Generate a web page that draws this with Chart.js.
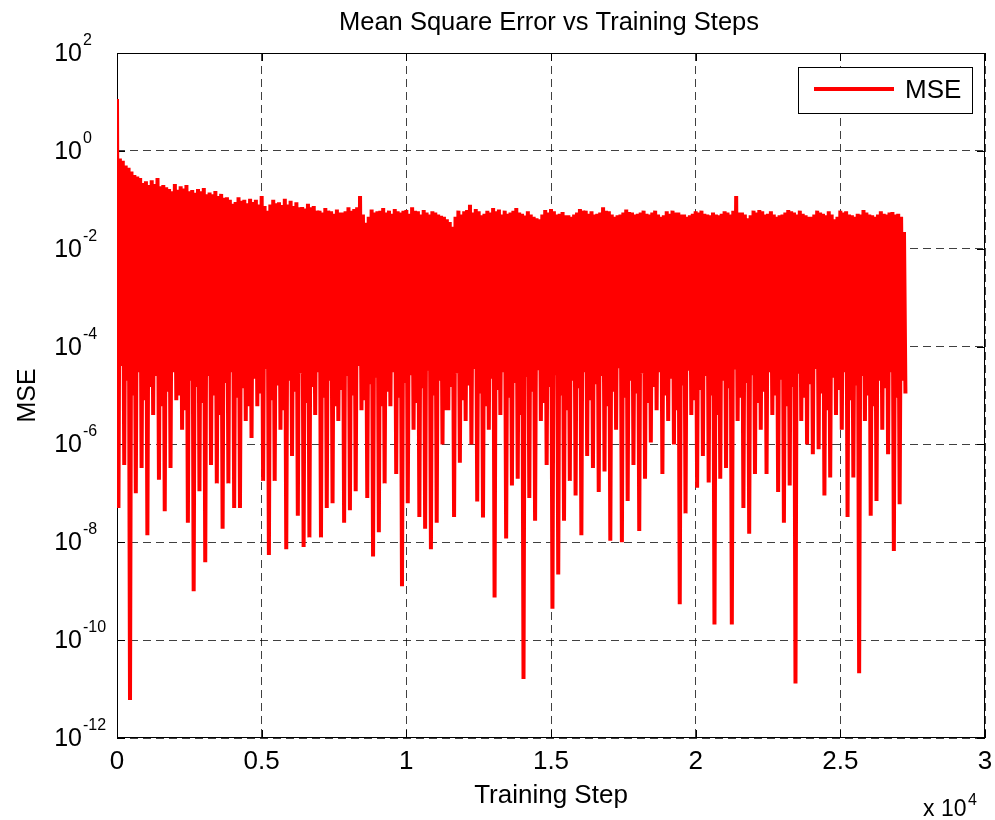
<!DOCTYPE html>
<html>
<head>
<meta charset="utf-8">
<title>Mean Square Error vs Training Steps</title>
<script src="https://cdn.jsdelivr.net/npm/chart.js@4.4.1/dist/chart.umd.min.js"></script>
<style>
  html, body { margin: 0; padding: 0; background: #fff; }
  #wrap { width: 995px; height: 820px; }
</style>
</head>
<body>
<div id="wrap"><canvas id="mseChart" width="995" height="820"></canvas></div>
<script>
// upper swings of the MSE trace, one every 100 training steps
const peakMSE = [
  11.5, 0.7, 0.63, 0.5, 0.45, 0.38, 0.32, 0.3, 0.28, 0.22,
  0.24, 0.2, 0.25, 0.21, 0.28, 0.19, 0.2, 0.18, 0.166, 0.15,
  0.21, 0.16, 0.19, 0.17, 0.2, 0.15, 0.158, 0.14, 0.166, 0.15,
  0.174, 0.13, 0.141, 0.13, 0.151, 0.12, 0.132, 0.11, 0.112, 0.1,
  0.083, 0.09, 0.112, 0.095, 0.1, 0.085, 0.105, 0.09, 0.1, 0.08,
  0.12, 0.075, 0.06, 0.08, 0.1, 0.085, 0.089, 0.078, 0.105, 0.08,
  0.095, 0.075, 0.089, 0.07, 0.071, 0.066, 0.083, 0.07, 0.075, 0.06,
  0.06, 0.055, 0.068, 0.06, 0.058, 0.052, 0.063, 0.055, 0.055, 0.058,
  0.07, 0.06, 0.065, 0.07, 0.12, 0.05, 0.034, 0.045, 0.063, 0.055,
  0.058, 0.06, 0.068, 0.055, 0.06, 0.052, 0.065, 0.058, 0.055, 0.06,
  0.062, 0.052, 0.07, 0.06, 0.058, 0.05, 0.062, 0.055, 0.05, 0.058,
  0.055, 0.05, 0.047, 0.045, 0.04, 0.035, 0.028, 0.045, 0.06, 0.05,
  0.058, 0.062, 0.079, 0.055, 0.065, 0.058, 0.048, 0.052, 0.06, 0.055,
  0.068, 0.058, 0.063, 0.05, 0.06, 0.052, 0.055, 0.06, 0.068, 0.055,
  0.052, 0.048, 0.058, 0.05, 0.045, 0.042, 0.04, 0.05, 0.062, 0.055,
  0.065, 0.058, 0.05, 0.052, 0.056, 0.048, 0.048, 0.045, 0.05, 0.055,
  0.065, 0.06, 0.06, 0.052, 0.058, 0.05, 0.052, 0.055, 0.07, 0.06,
  0.058, 0.05, 0.045, 0.048, 0.05, 0.055, 0.063, 0.056, 0.055, 0.05,
  0.052, 0.055, 0.06, 0.052, 0.05, 0.055, 0.06, 0.05, 0.045, 0.048,
  0.058, 0.052, 0.06, 0.055, 0.055, 0.05, 0.05, 0.045, 0.048, 0.052,
  0.058, 0.055, 0.06, 0.052, 0.05, 0.048, 0.055, 0.05, 0.048, 0.052,
  0.058, 0.055, 0.05, 0.06, 0.12, 0.055, 0.055, 0.05, 0.042, 0.048,
  0.06, 0.055, 0.062, 0.058, 0.05, 0.052, 0.058, 0.05, 0.045, 0.048,
  0.05, 0.055, 0.062, 0.058, 0.055, 0.05, 0.06, 0.052, 0.048, 0.045,
  0.045, 0.05, 0.06, 0.055, 0.052, 0.048, 0.058, 0.05, 0.04, 0.045,
  0.06, 0.055, 0.058, 0.05, 0.048, 0.045, 0.052, 0.05, 0.062, 0.055,
  0.05, 0.048, 0.045, 0.05, 0.058, 0.052, 0.05, 0.055, 0.056, 0.05,
  0.052, 0.045, 0.022
];

// lower swings, each 50 steps after the matching peak
const dipMSE = [
  5e-8, 4e-5, 3.8e-7, 2e-5, 6e-12, 1e-5, 1e-7, 3e-5, 3.3e-7, 8e-6,
  1.4e-8, 1.5e-5, 4e-6, 2.5e-5, 1.9e-7, 6e-6, 4.3e-8, 1.2e-5, 3.3e-7, 3e-5,
  8e-6, 1e-5, 2e-6, 5e-6, 2.5e-8, 2e-5, 1e-9, 1.5e-5, 1.1e-7, 7e-6,
  3.9e-9, 2.5e-5, 3.8e-7, 1e-5, 1.6e-7, 4e-6, 1.9e-8, 1.8e-5, 1.6e-7, 3e-5,
  5e-8, 9e-6, 5e-8, 1.4e-5, 3e-6, 6e-6, 1.35e-6, 2.2e-5, 6e-6, 1.1e-5,
  1.8e-7, 3.5e-5, 5.5e-9, 8e-6, 1.8e-7, 1.6e-5, 2e-6, 5e-6, 7.2e-9, 2e-5,
  5.8e-7, 1.2e-5, 3.5e-8, 2.8e-5, 8e-9, 7e-6, 1.26e-8, 1.5e-5, 4e-6, 3e-5,
  1.26e-8, 9e-6, 5e-8, 2e-5, 6.3e-8, 6e-6, 3e-6, 1.3e-5, 2.5e-8, 2.5e-5,
  4.5e-8, 1e-5, 1.1e-7, 4e-5, 5e-6, 8e-6, 8e-8, 1.7e-5, 5.1e-9, 2.3e-5,
  1.6e-8, 6e-6, 1.6e-7, 1.2e-5, 6e-6, 3e-5, 2.5e-7, 9e-6, 1.26e-9, 1.8e-5,
  6.3e-8, 2.6e-5, 2e-6, 7e-6, 3.3e-8, 1.4e-5, 1.9e-8, 3.2e-5, 7.2e-9, 1e-5,
  2.5e-8, 2e-5, 1e-6, 5e-6, 5e-6, 1.5e-5, 3.3e-8, 2.8e-5, 4.2e-7, 8e-6,
  3e-6, 1.6e-5, 1e-6, 3.5e-5, 6.8e-8, 1.1e-5, 3.2e-8, 6e-6, 2e-6, 2.2e-5,
  7.4e-10, 1.3e-5, 4e-6, 3e-5, 1.2e-8, 9e-6, 1.45e-7, 1.8e-5, 2e-7, 4e-6,
  1.6e-11, 2.4e-5, 8e-8, 1.2e-5, 2.75e-8, 3.3e-5, 3e-6, 7e-6, 3.8e-7, 1.5e-5,
  4.4e-10, 2.6e-5, 2.2e-9, 1e-5, 2.75e-8, 5e-6, 1.8e-7, 2e-5, 9e-8, 1.4e-5,
  1.4e-8, 3e-5, 5.8e-7, 8e-6, 3.3e-7, 1.7e-5, 1.07e-7, 2.5e-5, 2.8e-7, 6e-6,
  1.07e-8, 1.2e-5, 2e-6, 3.6e-5, 1e-8, 9e-6, 7e-8, 2e-5, 3.8e-7, 1.1e-5,
  1.7e-8, 2.8e-5, 2e-7, 7e-6, 1.1e-6, 1.5e-5, 5e-6, 3e-5, 2.5e-7, 1e-5,
  3e-6, 2.2e-5, 1e-6, 5e-6, 5.4e-10, 1.6e-5, 3.9e-8, 3.2e-5, 4e-6, 8e-6,
  1.3e-7, 1.3e-5, 5.8e-7, 2.5e-5, 1.66e-7, 1e-5, 2.1e-10, 4e-6, 2e-7, 2e-5,
  3.3e-7, 1.4e-5, 2.1e-10, 3.4e-5, 3e-6, 9e-6, 5e-8, 1.8e-5, 1.5e-8, 2.6e-5,
  2.5e-7, 7e-6, 2e-6, 1.2e-5, 2.5e-7, 3e-5, 4e-6, 1e-5, 1.07e-7, 2.1e-5,
  2.5e-8, 6e-6, 1.45e-7, 1.5e-5, 1.3e-11, 2.8e-5, 3e-6, 9e-6, 1e-6, 1.7e-5,
  6.3e-7, 3.5e-5, 8e-7, 1.1e-5, 9e-8, 5e-6, 2.1e-7, 2.3e-5, 4e-6, 1.3e-5,
  2e-6, 3e-5, 3.3e-8, 8e-6, 2.1e-7, 1.6e-5, 2.1e-11, 2.5e-5, 3e-6, 1e-5,
  3.5e-8, 6e-6, 7e-8, 2e-5, 2e-6, 1.4e-5, 6.3e-7, 3e-5, 6.6e-9, 9e-6,
  6e-8, 2e-5, 1.1e-5
];

const stepsPerSample = 100;

const yTickValues = [1e2, 1e0, 1e-2, 1e-4, 1e-6, 1e-8, 1e-10, 1e-12];
const yTickExponents = ['2', '0', '-2', '-4', '-6', '-8', '-10', '-12'];
const xTickLabels = ['0', '0.5', '1', '1.5', '2', '2.5', '3'];
const xScaleExponent = '4';

const FONT = "'Liberation Sans', Arial, Helvetica, sans-serif";
Chart.defaults.font.family = FONT;

// peak, dip, peak, dip ... along the step axis
const points = [];
peakMSE.forEach((p, j) => {
  points.push({ x: j * stepsPerSample, y: p });
  points.push({ x: j * stepsPerSample + stepsPerSample / 2, y: dipMSE[j] });
});

const matlabAxes = {
  id: 'matlabAxes',
  beforeDatasetsDraw(chart) {
    const { ctx, chartArea: a, scales: { x, y } } = chart;
    ctx.save();
    ctx.setLineDash([]);
    ctx.strokeStyle = '#000';
    ctx.lineWidth = 1;
    ctx.strokeRect(a.left + 0.5, a.top + 0.5, a.right - a.left - 1, a.bottom - a.top - 1);
    const tick = 8;
    ctx.beginPath();
    yTickValues.forEach(v => {
      const py = Math.round(y.getPixelForValue(v)) + 0.5;
      ctx.moveTo(a.left, py); ctx.lineTo(a.left + tick, py);
      ctx.moveTo(a.right, py); ctx.lineTo(a.right - tick, py);
    });
    x.ticks.forEach(t => {
      const px = Math.round(x.getPixelForValue(t.value)) + 0.5;
      ctx.moveTo(px, a.bottom); ctx.lineTo(px, a.bottom - tick);
      ctx.moveTo(px, a.top); ctx.lineTo(px, a.top + tick);
    });
    ctx.stroke();
    ctx.restore();
  },
  afterDraw(chart) {
    const { ctx, chartArea: a, scales: { y } } = chart;
    ctx.save();
    ctx.fillStyle = '#000';

    // title over the middle of the axes
    ctx.font = '25.5px ' + FONT;
    ctx.textAlign = 'center';
    ctx.textBaseline = 'middle';
    ctx.fillText('Mean Square Error vs Training Steps', (a.left + a.right) / 2 - 2, 23);

    // y tick labels: 10 with a raised exponent
    ctx.textBaseline = 'alphabetic';
    yTickValues.forEach((v, i) => {
      const py = y.getPixelForValue(v);
      ctx.font = '25px ' + FONT;
      ctx.textAlign = 'right';
      ctx.fillText('10', a.left - 35, py + 8);
      ctx.font = '16px ' + FONT;
      ctx.textAlign = 'left';
      ctx.fillText(yTickExponents[i], a.left - 34, py - 8);
    });

    // x multiplier under the right end of the axis
    ctx.font = '23px ' + FONT;
    ctx.textAlign = 'left';
    ctx.fillText('x 10', a.right - 62, a.bottom + 78);
    ctx.font = '16px ' + FONT;
    ctx.fillText(xScaleExponent, a.right - 17, a.bottom + 67);

    // legend box
    const ds = chart.data.datasets[0];
    const bx = a.right - 187, by = a.top + 14, bw = 174, bh = 46;
    ctx.fillStyle = '#fff';
    ctx.fillRect(bx, by, bw, bh);
    ctx.strokeStyle = '#000';
    ctx.lineWidth = 1;
    ctx.strokeRect(bx + 0.5, by + 0.5, bw, bh);
    ctx.strokeStyle = ds.borderColor;
    ctx.lineWidth = 4;
    ctx.beginPath();
    ctx.moveTo(bx + 16, by + 22);
    ctx.lineTo(bx + 96, by + 22);
    ctx.stroke();
    ctx.fillStyle = '#000';
    ctx.font = '26px ' + FONT;
    ctx.textBaseline = 'middle';
    ctx.fillText(ds.label, bx + 107, by + 24);
    ctx.restore();
  }
};

new Chart(document.getElementById('mseChart'), {
  type: 'line',
  data: {
    datasets: [{
      label: 'MSE',
      data: points,
      borderColor: '#ff0000',
      borderWidth: 4,
      pointRadius: 0,
      tension: 0,
      fill: false
    }]
  },
  options: {
    responsive: false,
    animation: false,
    devicePixelRatio: 1,
    layout: { padding: { left: 0, right: 10, top: 53, bottom: 0 } },
    plugins: {
      legend: { display: false },
      tooltip: { enabled: false },
      title: { display: false }
    },
    scales: {
      x: {
        type: 'linear',
        min: 0,
        max: 30000,
        afterFit: s => { s.height = 82; s.paddingLeft = 0; s.paddingRight = 0; },
        ticks: {
          stepSize: 5000,
          autoSkip: false,
          maxRotation: 0,
          color: '#000',
          padding: 8,
          font: { size: 26 },
          callback: (v, i) => xTickLabels[i]
        },
        grid: { color: 'rgba(0,0,0,0.75)', drawTicks: false },
        border: { display: false, dash: [8, 5] },
        title: {
          display: true,
          text: 'Training Step',
          color: '#000',
          font: { size: 26 },
          padding: { top: 0, bottom: 9 }
        }
      },
      y: {
        type: 'logarithmic',
        min: 1e-12,
        max: 1e2,
        afterFit: s => { s.width = 117; },
        afterBuildTicks: s => { s.ticks = yTickValues.map(v => ({ value: v })); },
        ticks: { display: false },
        grid: { color: 'rgba(0,0,0,0.75)', drawTicks: false },
        border: { display: false, dash: [8, 5] },
        title: {
          display: true,
          text: 'MSE',
          color: '#000',
          font: { size: 25 },
          padding: { top: 13, bottom: 0 }
        }
      }
    }
  },
  plugins: [matlabAxes]
});
</script>
</body>
</html>
